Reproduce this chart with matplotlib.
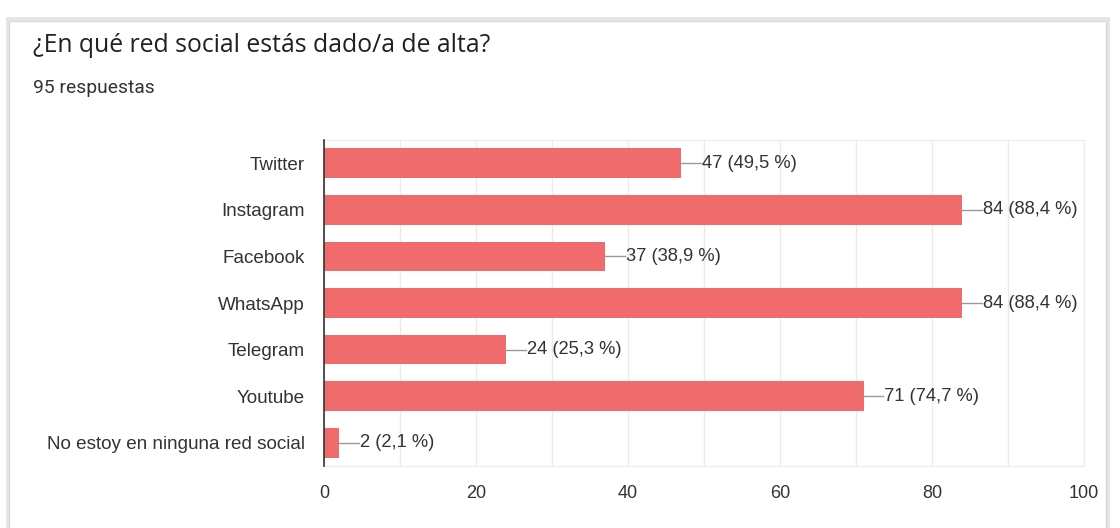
import matplotlib.pyplot as plt
from matplotlib.patches import Rectangle

# Survey data
redes = ['Twitter', 'Instagram', 'Facebook', 'WhatsApp', 'Telegram', 'Youtube',
         'No estoy en ninguna red social']
respuestas = [47, 84, 37, 84, 24, 71, 2]
porcentajes = ['49,5', '88,4', '38,9', '88,4', '25,3', '74,7', '2,1']
xticks = [0, 20, 40, 60, 80, 100]

bar_color = '#f06b6b'
text_color = '#333333'
plt.rcParams['font.family'] = ['Liberation Sans', 'DejaVu Sans']

fig = plt.figure(figsize=(11.2, 5.28), dpi=100)

# card background with a soft shadow
fig.patches.append(Rectangle((6 / 1120, -0.02), 1104 / 1120, 1 - 6 / 528,
                             transform=fig.transFigure, facecolor='#e6e6e6',
                             edgecolor='none', zorder=-3))
fig.patches.append(Rectangle((9 / 1120, -0.02), 1097 / 1120, 1 - 10 / 528,
                             transform=fig.transFigure, facecolor='white',
                             edgecolor='#d8d8d8', linewidth=1, zorder=-2))

fig.text(33 / 1120, 1 - 45 / 528, '¿En qué red social estás dado/a de alta?',
         fontsize=17.8, color='#202124', va='center', ha='left',
         family=['Open Sans', 'DejaVu Sans'])
fig.text(33 / 1120, 1 - 88 / 528, '95 respuestas',
         fontsize=13.9, color='#333333', va='center', ha='left',
         family=['Roboto', 'DejaVu Sans'])

ax = fig.add_axes([324 / 1120, 1 - 466 / 528, 760 / 1120, 326 / 528])
ax.set_facecolor('none')
ypos = list(range(len(redes)))
bars = ax.barh(ypos, respuestas, height=0.64, color=bar_color, zorder=3)

for b, v, p in zip(bars, respuestas, porcentajes):
    y = b.get_y() + b.get_height() / 2
    ax.plot([v, v + 2.6], [y, y], color='#999999', linewidth=1, zorder=3)
    ax.text(v + 2.7, y, f'{v} ({p} %)', va='center', ha='left',
            fontsize=13.2, color=text_color)

ax.set_xlim(0, 100)
ax.set_ylim(len(redes) - 0.5, -0.5)
ax.set_yticks(ypos)
ax.set_yticklabels(redes, fontsize=13.6, color=text_color)
ax.set_xticks(xticks)
ax.set_xticklabels([str(t) for t in xticks], fontsize=13, color=text_color)
ax.set_xticks(range(0, 101, 10), minor=True)
ax.grid(axis='x', which='both', color='#ebebeb', linewidth=1, zorder=0)
ax.tick_params(axis='both', length=0, pad=14)
ax.tick_params(axis='x', which='minor', length=0)
ax.tick_params(axis='y', pad=14)

for side in ['top', 'right', 'bottom']:
    ax.spines[side].set_color('#ebebeb')
ax.spines['left'].set_color('#333333')
ax.spines['left'].set_linewidth(1.2)
ax.spines['left'].set_zorder(4)

fig.savefig('out.png', dpi=100)
